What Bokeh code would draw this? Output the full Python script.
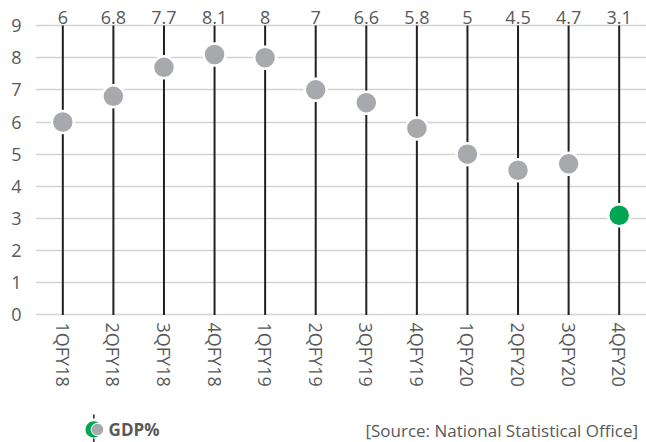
from bokeh.plotting import figure
from bokeh.models import ColumnDataSource, FactorRange, Range1d, FixedTicker
from bokeh.layouts import column
from bokeh.core.properties import value
from bokeh.embed import file_html
from bokeh.resources import INLINE

quarters = ["1QFY18", "2QFY18", "3QFY18", "4QFY18", "1QFY19", "2QFY19",
            "3QFY19", "4QFY19", "1QFY20", "2QFY20", "3QFY20", "4QFY20"]
gdp = [6, 6.8, 7.7, 8.1, 8, 7, 6.6, 5.8, 5, 4.5, 4.7, 3.1]
y_ticks = [0, 1, 2, 3, 4, 5, 6, 7, 8, 9]
legend_label = "GDP%"
source_note = "[Source: National Statistical Office]"

FONT = "Open Sans"
TEXT = "#58595b"
GREY = "#a7a9ac"
GREEN = "#00a651"

n = len(quarters)
colors = [GREY] * (n - 1) + [GREEN]
src = ColumnDataSource(dict(
    q=quarters, v=gdp, lab=[f"{v:g}" for v in gdp], c=colors,
    y0=[y_ticks[0]] * n, y1=[y_ticks[-1]] * n, ly=[y_ticks[-1] + 0.24] * n,
))

p = figure(width=646, height=408, output_backend="svg", toolbar_location=None,
           x_range=FactorRange(*quarters, range_padding=0.04, range_padding_units="absolute"),
           y_range=Range1d(-0.05, 9.78),
           min_border_top=0, min_border_left=35, min_border_right=0, min_border_bottom=92)
p.outline_line_color = None
p.xgrid.grid_line_color = None
p.ygrid.ticker = FixedTicker(ticks=y_ticks)
p.ygrid.grid_line_color = "#d1d3d4"
p.ygrid.grid_line_width = 1.5

p.yaxis.ticker = FixedTicker(ticks=y_ticks)
for ax in (p.xaxis, p.yaxis):
    ax.axis_line_color = None
    ax.major_tick_line_color = None
    ax.minor_tick_line_color = None
    ax.major_tick_out = 0
    ax.major_tick_in = 0
    ax.major_label_text_font = FONT
    ax.major_label_text_font_size = "18px"
    ax.major_label_text_color = TEXT
p.yaxis.major_label_standoff = 14
p.xaxis.major_label_orientation = "vertical"
p.xaxis.major_label_standoff = 6

p.segment(x0="q", y0="y0", x1="q", y1="y1", source=src, line_color="#231f20", line_width=2)
p.scatter(x="q", y="v", source=src, size=22, fill_color="c", line_color="white", line_width=2.5)
p.text(x="q", y="ly", text="lab", source=src, text_align="center", text_baseline="alphabetic",
       text_font=value(FONT), text_font_size="18px", text_color=TEXT)

# legend strip
lg = figure(width=646, height=34, output_backend="svg", toolbar_location=None,
            x_range=Range1d(0, 646), y_range=Range1d(0, 34), min_border=0)
lg.outline_line_color = None
lg.axis.visible = False
lg.grid.visible = False
lg.segment(x0=[61.7], y0=[0], x1=[61.7], y1=[29], line_color="#231f20", line_width=1.5, line_dash="4 4")
lg.scatter(x=[61.5], y=[13], size=16.5, fill_color=GREEN, line_color=None)
lg.scatter(x=[65.5], y=[13], size=12.5, fill_color=GREY, line_color="white", line_width=1)
lg.text(x=[77.3], y=[13], text=[legend_label], text_font=value(FONT), text_font_size="17px",
        text_font_style="bold", text_color=TEXT, text_baseline="alphabetic")
lg.text(x=[637], y=[12.5], text=[source_note], text_font=value(FONT), text_font_size="17px",
        text_color=TEXT, text_align="right", text_baseline="alphabetic")

layout = column(p, lg, spacing=0)
open("out.html", "w").write(file_html(layout, INLINE))
